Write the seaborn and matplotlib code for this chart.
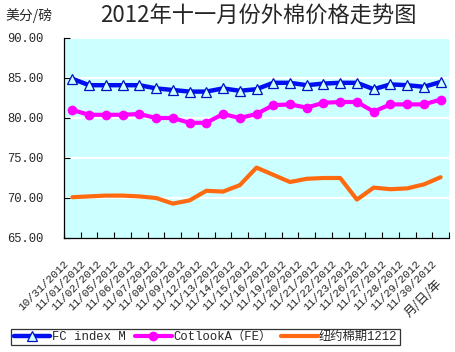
import matplotlib
matplotlib.use("Agg")
import matplotlib.pyplot as plt
import matplotlib.transforms as mtransforms
import numpy as np
import pandas as pd
import seaborn as sns

dates = ['10/31/2012', '11/01/2012', '11/02/2012', '11/05/2012', '11/06/2012',
         '11/07/2012', '11/08/2012', '11/09/2012', '11/12/2012', '11/13/2012',
         '11/14/2012', '11/15/2012', '11/16/2012', '11/19/2012', '11/20/2012',
         '11/21/2012', '11/22/2012', '11/23/2012', '11/26/2012', '11/27/2012',
         '11/28/2012', '11/29/2012', '11/30/2012']
fc_index = [84.9, 84.1, 84.1, 84.1, 84.1, 83.7, 83.5, 83.3, 83.3, 83.7, 83.4, 83.6,
            84.4, 84.4, 84.1, 84.3, 84.4, 84.4, 83.6, 84.2, 84.1, 83.9, 84.5]
cotlook = [81.0, 80.4, 80.4, 80.4, 80.5, 80.0, 80.0, 79.4, 79.4, 80.5, 80.0, 80.5,
           81.6, 81.7, 81.3, 81.9, 82.0, 82.0, 80.8, 81.7, 81.7, 81.7, 82.3]
nybot = [70.1, 70.2, 70.3, 70.3, 70.2, 70.0, 69.3, 69.7, 70.9, 70.8, 71.6, 73.8,
         72.9, 72.0, 72.4, 72.5, 72.5, 69.8, 71.3, 71.1, 71.2, 71.7, 72.6]
y_ticks = [65, 70, 75, 80, 85, 90]

sns.set_style('white')
plt.rcParams['font.family'] = ['Liberation Mono', 'Noto Sans CJK SC', 'DejaVu Sans']
cjk = ['Noto Sans CJK SC', 'DejaVu Sans']

df = pd.DataFrame({'pos': np.arange(len(dates)), 'fc': fc_index,
                   'cot': cotlook, 'ny': nybot})

fig = plt.figure(figsize=(4.55, 3.52), dpi=100)
ax = fig.add_axes([64/455, 1-238/352, 385/455, 200/352])
ax.set_facecolor('#CCFFFF')

for y in y_ticks[1:]:
    ax.axhline(y, color='white', lw=1.5, zorder=0)

sns.lineplot(data=df, x='pos', y='ny', ax=ax, color='#FF6A10', lw=3,
             label='纽约棉期1212')
sns.lineplot(data=df, x='pos', y='cot', ax=ax, color='#FF00FF', lw=3,
             marker='o', markersize=7, markeredgewidth=0,
             label='CotlookA（FE）')
sns.lineplot(data=df, x='pos', y='fc', ax=ax, color='#0010F0', lw=3.2,
             marker='^', markersize=7, markerfacecolor='#CCFFFF',
             markeredgecolor='#0010C0', markeredgewidth=0.9,
             label='FC index M')

ax.set_xlim(-0.5, len(dates) - 0.5)
ax.set_ylim(65, 90)
ax.set_yticks(y_ticks)
ax.set_yticklabels(['%.2f' % v for v in y_ticks], fontsize=8.7)

# category ticks sit between dates; labels drawn as rotated text below
ax.set_xticks(np.arange(len(dates) + 1) - 0.5)
ax.set_xticklabels([])
ax.tick_params(axis='x', direction='in', length=4, width=0.8, color='black',
               bottom=True)
lbl_trans = mtransforms.blended_transform_factory(ax.transData, ax.transAxes) + \
    mtransforms.ScaledTranslation(-9/100, -20/100, fig.dpi_scale_trans)
for i, d in enumerate(dates):
    ax.text(i, 0, d, transform=lbl_trans, rotation=45, ha='right', va='top',
            rotation_mode='anchor', fontsize=8.0, clip_on=False)

ax.tick_params(axis='y', direction='in', length=4, width=0.8, color='black',
               left=True, pad=15)
ax.set_xlabel('')
ax.set_ylabel('')
for s in ['top', 'right']:
    ax.spines[s].set_visible(False)
for s in ['left', 'bottom']:
    ax.spines[s].set_color('black')
    ax.spines[s].set_linewidth(0.9)

handles, labels = ax.get_legend_handles_labels()
order = [2, 1, 0]
leg = fig.legend([handles[i] for i in order], [labels[i] for i in order],
                 loc='center', bbox_to_anchor=(205.5/455, 1-337/352), ncol=3,
                 frameon=True, fancybox=False, edgecolor='black',
                 handlelength=3.0, handletextpad=0.1, columnspacing=0.8,
                 borderpad=0.2, borderaxespad=0, fontsize=8.8)
leg.get_frame().set_linewidth(0.9)
ax.get_legend().remove()

fig.text(100/455, 1-16/352, '2012年十一月份外棉价格走势图', family=cjk,
         fontsize=16, va='center', ha='left')
fig.text(5/455, 1-16/352, '美分/磅', family=cjk, fontsize=10,
         va='center', ha='left')
fig.text(423/455, 1-298/352, '月/日/年', family=cjk, fontsize=9,
         rotation=45, va='center', ha='center')

fig.savefig('out.png', dpi=100, facecolor='white')
